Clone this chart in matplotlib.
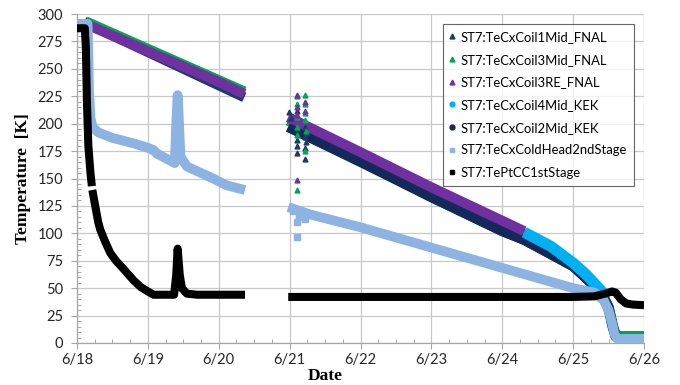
import numpy as np
import matplotlib
matplotlib.use('Agg')
import matplotlib.pyplot as plt
from matplotlib.lines import Line2D
from matplotlib.ticker import MultipleLocator

nan = float('nan')

# x values are days since 6/18 00:00
date_labels = ['6/18', '6/19', '6/20', '6/21', '6/22', '6/23', '6/24', '6/25', '6/26']
y_ticks = [0, 25, 50, 75, 100, 125, 150, 175, 200, 225, 250, 275, 300]

names = ['ST7:TeCxCoil1Mid_FNAL', 'ST7:TeCxCoil3Mid_FNAL', 'ST7:TeCxCoil3RE_FNAL',
         'ST7:TeCxCoil4Mid_KEK', 'ST7:TeCxCoil2Mid_KEK', 'ST7:TeCxColdHead2ndStage',
         'ST7:TePtCC1stStage']

# Coil1Mid_FNAL (dark blue triangles)
coil1_x = [0.10, 0.30, 2.36, nan, 2.98, 4.0, 5.0, 6.0, 6.31, 7.0, 7.3, 7.4, 7.5, 7.56, 7.6, 7.65, 8.0]
coil1_T = [293, 286.5, 224, nan, 197, 166, 133, 102, 94, 70, 52, 45, 32, 15, 6, 4.5, 4.5]
coil1_spike_x = [3.10, 3.10, 3.10, 3.10, 3.11, 3.22, 3.22, 3.22, 3.22, 3.23, 2.99, 3.02]
coil1_spike_T = [212, 195, 185, 173, 180, 197, 188, 178, 168, 183, 211, 205]

# Coil3Mid_FNAL (green triangles)
coil3m_x = [0.12, 2.36, nan, 2.98, 4.0, 5.0, 6.0, 6.31, 7.0, 7.3, 7.4, 7.5, 7.56, 7.6, 7.65, 8.0]
coil3m_T = [293, 229, nan, 203, 171, 139, 108.5, 99, 72, 53, 46, 32, 15, 7, 6, 6]
coil3m_spike_x = [3.10, 3.10, 3.10, 3.10, 3.11, 3.10, 3.22, 3.22, 3.22, 3.22, 3.23, 3.22]
coil3m_spike_T = [225, 218, 206, 190, 197, 139.5, 226, 218, 210, 203, 193, 175]

# Coil3RE_FNAL (purple triangles)
coil3re_x = [0.12, 1.0, 2.0, 2.36, nan, 2.98, 4.0, 5.0, 6.0, 6.31]
coil3re_T = [291, 266, 238, 227, nan, 206, 174, 142, 111.5, 102]
coil3re_spike_x = [3.10, 3.10, 3.10, 3.22, 3.22, 3.11]
coil3re_spike_T = [226, 215, 148.7, 220, 212, 208]

# Coil4Mid_KEK (cyan circles)
coil4_x = [6.31, 6.69, 7.0, 7.19, 7.39, 7.45]
coil4_T = [101, 88, 73, 62, 48, 44]

# Coil2Mid_KEK (navy circles)
coil2_x = [2.98, 4.0, 5.0, 6.0, 6.31, 7.0, 7.3, 7.39, 7.5, 7.56, 7.6, 7.65, 8.0]
coil2_T = [197, 165, 133, 102, 94, 70, 52, 46, 33, 15, 6, 4, 4]

# ColdHead2ndStage (light blue squares)
head_x = [0.0, 0.15, 0.17, 0.19, 0.22, 0.3, 0.5, 0.8, 1.0, 1.08, 1.12, 1.38, 1.40, 1.42, 1.44, 1.46,
          1.55, 1.97, 2.1, 2.37, nan, 2.98, 3.3, 4.0, 5.0, 6.0, 7.0, 7.3, 7.43, 7.5, 7.55, 7.58, 7.62, 8.0]
head_T = [291, 291, 230, 205, 197, 192, 187, 182, 178, 176, 173, 164, 200, 226, 200, 170,
          161, 148.5, 144, 139.5, nan, 124, 117, 105.5, 87, 68.5, 50, 46, 39, 30, 18, 9, 4, 4]
head_spike_x = [3.10, 3.10, 3.13, 3.22, 3.05]
head_spike_T = [97, 110, 115, 113, 120]

# PtCC1stStage (black squares)
cc_x = [0.0, 0.11, 0.125, 0.14, 0.16, 0.19, 0.21, nan, 0.216, 0.3, 0.33, 0.4, 0.47, 0.55, 0.65,
        0.8, 0.9, 1.0, 1.08, 1.37, 1.40, 1.42, 1.45, 1.48, 1.55, 1.7, 2.37, nan,
        2.98, 4.0, 5.0, 6.0, 7.0, 7.3, 7.45, 7.55, 7.6, 7.67, 7.75, 7.85, 8.0]
cc_T = [287, 287, 270, 220, 180, 155, 143, nan, 139.5, 110, 103, 92, 82, 75, 68,
        57, 51, 47, 44, 44, 62, 86, 62, 50, 45, 44, 44, nan,
        42, 42, 42, 42, 42, 42.5, 45, 47, 46, 40, 36, 35, 34.5]

c_coil1 = '#1F3A6B'
c_coil3m = '#00A850'
c_coil3re = '#7030A0'
c_coil4 = '#00B0F0'
c_coil2 = '#13295A'
c_head = '#8DB3E2'
c_cc = '#000000'

plt.rcParams['font.family'] = ['Lato', 'DejaVu Sans']

fig = plt.figure(figsize=(6.8, 3.85), dpi=100)
ax = fig.add_axes([77/680, 1-343/385, (644-77)/680, (343-14)/385])

lw_band = 7.2
kw = dict(solid_capstyle='butt', solid_joinstyle='round')
ax.plot(coil1_x, coil1_T, color=c_coil1, lw=lw_band, zorder=2, **kw)
ax.plot(coil3m_x, coil3m_T, color=c_coil3m, lw=lw_band+0.6, zorder=3, **kw)
ax.plot(coil3re_x, coil3re_T, color=c_coil3re, lw=lw_band, zorder=4, **kw)
ax.plot(coil4_x, coil4_T, color=c_coil4, lw=lw_band+0.8, zorder=5, **kw)
ax.plot(coil2_x, coil2_T, color=c_coil2, lw=lw_band, zorder=3.5, **kw)
ax.plot(head_x, head_T, color=c_head, lw=7.0, zorder=6, **kw)
ax.plot(cc_x, cc_T, color=c_cc, lw=5.8, zorder=7, **kw)

ax.plot(coil1_spike_x, coil1_spike_T, ls='none', marker='^', ms=3.5, color=c_coil1, zorder=4.2)
ax.plot(coil3m_spike_x, coil3m_spike_T, ls='none', marker='^', ms=3.5, color=c_coil3m, zorder=4.3)
ax.plot(coil3re_spike_x, coil3re_spike_T, ls='none', marker='^', ms=3.5, color=c_coil3re, zorder=4.4)
ax.plot(head_spike_x, head_spike_T, ls='none', marker='s', ms=4.5, color=c_head, zorder=6)

ax.set_xlim(0, 8)
ax.set_ylim(0, 300)
ax.set_xticks(range(len(date_labels)))
ax.set_xticklabels(date_labels)
ax.set_yticks(y_ticks)
ax.xaxis.set_minor_locator(MultipleLocator(0.25))
ax.yaxis.set_minor_locator(MultipleLocator(5))
ax.grid(True, which='major', color='#C8C8C8', lw=0.9, zorder=0)
ax.set_axisbelow(True)
for s in ['top', 'right']:
    ax.spines[s].set_visible(False)
for s in ['left', 'bottom']:
    ax.spines[s].set_color('#A6A6A6')
    ax.spines[s].set_linewidth(0.9)
ax.tick_params(axis='both', which='major', length=4, color='#A6A6A6', labelsize=10.5,
               labelcolor='#262626')
ax.tick_params(axis='y', which='major', pad=6)
ax.tick_params(axis='x', which='major', pad=3)
ax.tick_params(axis='both', which='minor', direction='in', length=3, color='#A6A6A6', width=0.7)

ax.set_ylabel('Temperature  [K]', family='Liberation Serif', fontweight='bold', fontsize=12.5)
ax.set_xlabel('Date', family='Liberation Serif', fontweight='bold', fontsize=12.5)
ax.yaxis.set_label_coords(-0.082, 0.5)
ax.xaxis.set_label_coords(0.437, -0.077)

handles = [
    Line2D([], [], ls='none', marker='^', ms=3.5, color=c_coil1),
    Line2D([], [], ls='none', marker='^', ms=3.5, color=c_coil3m),
    Line2D([], [], ls='none', marker='^', ms=3.5, color=c_coil3re),
    Line2D([], [], ls='none', marker='o', ms=3.5, color=c_coil4),
    Line2D([], [], ls='none', marker='o', ms=3.5, color=c_coil2),
    Line2D([], [], ls='none', marker='s', ms=3.5, color=c_head),
    Line2D([], [], ls='none', marker='s', ms=3.5, color=c_cc),
]
leg = fig.legend(handles, names, loc='upper left', bbox_to_anchor=(442.7/680, 1-24.3/385),
                 bbox_transform=fig.transFigure, frameon=True, fancybox=False, fontsize=9.4,
                 handlelength=0.5, handletextpad=0.4, labelspacing=0.82, borderpad=0.5,
                 borderaxespad=0)
leg.get_frame().set_edgecolor('#404040')
leg.get_frame().set_linewidth(0.8)
leg.set_zorder(10)

fig.savefig('out.png', dpi=100)
